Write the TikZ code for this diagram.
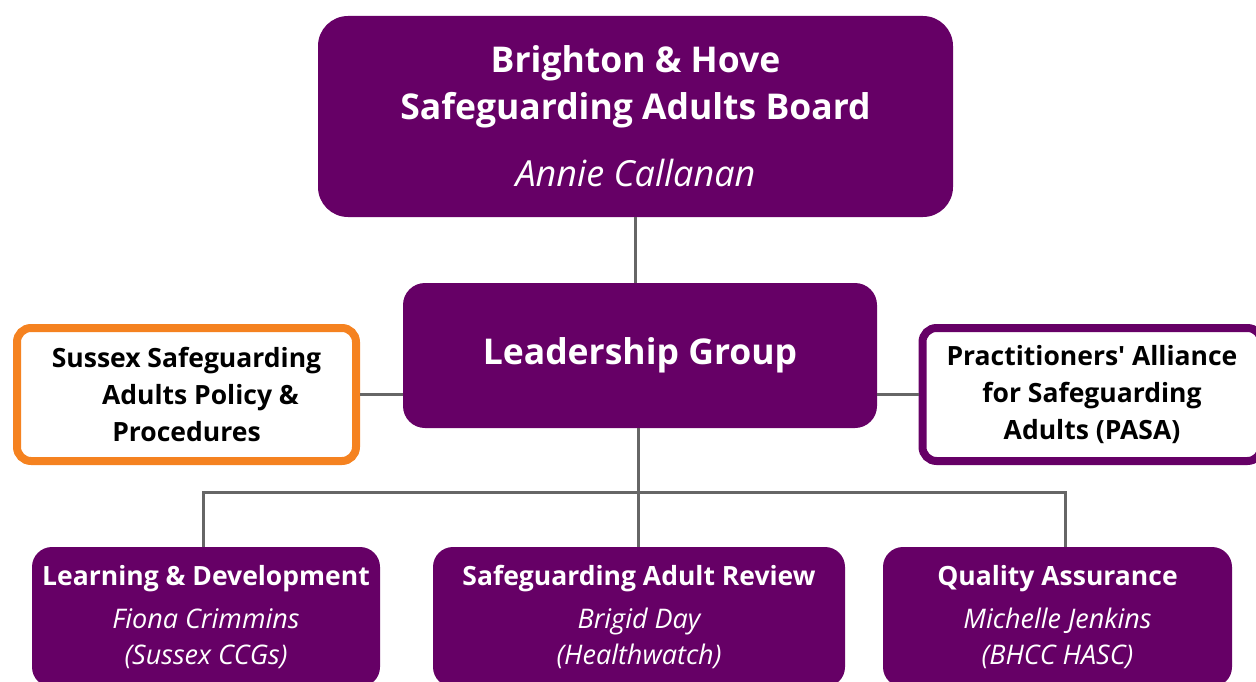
\documentclass[tikz,border=0pt]{standalone}
\usepackage{fontspec}
\setmainfont{Open Sans}
\newfontfamily\rawfont{Open Sans}
\definecolor{purp}{HTML}{660066}
\definecolor{orng}{HTML}{F58220}
\definecolor{lin}{HTML}{666666}
\begin{document}
\begin{tikzpicture}[x=1pt,y=-1pt,
  purplebox/.style={fill=purp, text=white, align=center, inner sep=0pt},
  outlinebox/.style={draw=#1, line width=8pt, fill=white, rounded corners=14pt, align=center, inner sep=0pt,
     minimum width=339pt, minimum height=133pt, font=\bfseries\fontsize{26.5}{37}\selectfont},
  conn/.style={draw=lin, line width=3pt}]
\useasboundingbox (0,0) rectangle (1256,682);
\clip (0,0) rectangle (1256,682);
% top board
\node[purplebox, rounded corners=30pt, minimum width=635pt, minimum height=201pt,
  font=\bfseries\fontsize{35.5}{47}\selectfont] (board) at (635.5,116.5)
  {Brighton \& Hove\\ Safeguarding Adults Board\\[20pt]
   \mdseries\itshape\fontsize{36}{47}\selectfont Annie Callanan};
% leadership
\node[purplebox, rounded corners=22pt, minimum width=474pt, minimum height=145pt,
  font=\bfseries\fontsize{35.5}{40}\selectfont] (leader) at (640,355.5) {Leadership Group};
% side boxes
\node[outlinebox=orng] (policy) at (186.5,394.5) {Sussex Safeguarding\\ \hspace*{28pt}Adults Policy \&\\ Procedures};
\node[outlinebox=purp] (pasa) at (1092,394.5) {Practitioners{\rawfont\bfseries '} Alliance\\ for Safeguarding\\ Adults (PASA)};
% bottom boxes
\tikzset{subbox/.style={purplebox, rounded corners=20pt, minimum height=140pt, font=\fontsize{27}{36}\selectfont}}
\node[subbox, minimum width=348pt] (ld) at (206,617)
  {{\bfseries\fontsize{26.5}{36}\selectfont Learning \& Development}\\[7pt] \itshape Fiona Crimmins\\ \itshape (Sussex CCGs)};
\node[subbox, minimum width=412pt] (sar) at (639,617)
  {{\bfseries\fontsize{26.5}{36}\selectfont Safeguarding Adult Review}\\[7pt] \itshape Brigid Day\\ \itshape (Healthwatch)};
\node[subbox, minimum width=349pt] (qa) at (1057.5,617)
  {{\bfseries\fontsize{26.5}{36}\selectfont Quality Assurance}\\[7pt] \itshape Michelle Jenkins\\ \itshape (BHCC HASC)};
% connectors
\coordinate (bus) at (638,492);
\coordinate (bl) at (203,492);
\coordinate (br) at (1065,492);
\draw[conn] (board.south) -- (board.south |- leader.north);
\draw[conn] (policy.east) -- (policy.east -| leader.west);
\draw[conn] (leader.east |- pasa.west) -- (pasa.west);
\draw[conn] (leader.south -| bus) -- (bus |- sar.north);
\draw[conn] (bl |- ld.north) -- (bl) -- (br) -- (br |- qa.north);
\end{tikzpicture}
\end{document}
